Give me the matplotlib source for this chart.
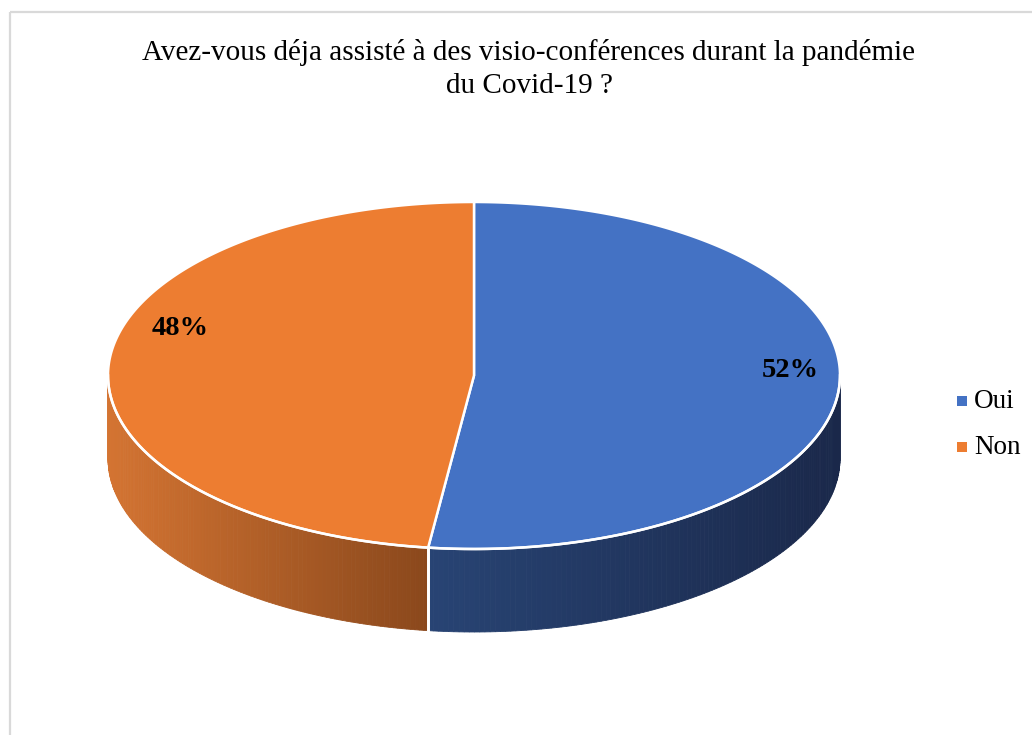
import numpy as np
import matplotlib
matplotlib.use("Agg")
import matplotlib.pyplot as plt
from matplotlib.patches import Polygon, Rectangle

# ---- data ----
categories = ["Oui", "Non"]
values = [52, 48]
pct_labels = ["52%", "48%"]
title = "Avez-vous déja assisté à des visio-conférences durant la pandémie\ndu Covid-19 ?"

# ---- style ----
top_colors = ["#4472C4", "#ED7D31"]
wall_light = [np.array([40, 68, 116]) / 255, np.array([212, 116, 50]) / 255]
wall_dark = [np.array([26, 40, 74]) / 255, np.array([138, 72, 28]) / 255]

W, H = 1032, 735
fig = plt.figure(figsize=(W / 100, H / 100), dpi=100)
ax = fig.add_axes([0, 0, 1, 1])
ax.set_xlim(0, W)
ax.set_ylim(H, 0)
ax.axis("off")

plt.rcParams["font.family"] = ["Liberation Serif", "DejaVu Serif"]

# chart border
ax.add_patch(Rectangle((10, 12), 1200, 900, fill=False, edgecolor="#D9D9D9", lw=1.6))

cx, cy, rx, ry, depth = 474, 375.5, 366, 173.5, 83


def pt(theta_deg, dy=0.0):
    t = np.radians(theta_deg)
    return cx + rx * np.cos(t), cy - ry * np.sin(t) + dy


# slice angles: start at 12 o'clock, clockwise
total = float(sum(values))
starts, ends = [], []
a = 90.0
for v in values:
    starts.append(a)
    a -= 360.0 * v / total
    ends.append(a)

# ---- side walls (front half: theta in [180, 360]) ----
for i in range(len(values)):
    s, e = starts[i], ends[i]
    lo, hi = e, s
    segs = []
    for k in (-360, 0, 360):
        l2, h2 = lo + k, hi + k
        vl, vh = max(l2, 180), min(h2, 360)
        if vh > vl:
            segs.append((vl, vh))
    for (vl, vh) in segs:
        n = 120
        th = np.linspace(vl, vh, n + 1)
        xs = [pt(t)[0] for t in th]
        xmin, xmax = min(xs), max(xs)
        for j in range(n):
            t0, t1 = th[j], th[j + 1]
            xm = 0.5 * (pt(t0)[0] + pt(t1)[0])
            f = (xm - xmin) / max(xmax - xmin, 1)
            c = wall_light[i] * (1 - f) + wall_dark[i] * f
            poly = [pt(t0), pt(t1), pt(t1, depth), pt(t0, depth)]
            ax.add_patch(Polygon(poly, closed=True, facecolor=c, edgecolor=c, lw=0.6))
        for t in (vl, vh):
            if 180 < t < 360:
                x0, y0 = pt(t)
                ax.plot([x0, x0], [y0, y0 + depth], color="white", lw=2)

# ---- top faces ----
for i in range(len(values)):
    th = np.linspace(starts[i], ends[i], 300)
    poly = [(cx, cy)] + [pt(t) for t in th]
    ax.add_patch(Polygon(poly, closed=True, facecolor=top_colors[i], edgecolor="white",
                         lw=1.8, joinstyle="round"))

th = np.linspace(180, 360, 300)
ax.plot([pt(t)[0] for t in th], [pt(t)[1] for t in th], color="white", lw=1.8)

# ---- labels ----
label_pos = [(790, 370), (180, 328)]
for (lx, ly), txt in zip(label_pos, pct_labels):
    ax.text(lx, ly, txt, ha="center", va="center", fontsize=20.5, fontweight="bold", color="black")

# ---- title ----
ax.text(529, 69, title, ha="center", va="center", fontsize=21, color="black", linespacing=1.32)

# ---- legend ----
leg_y = [401, 447]
for yy, c, lab in zip(leg_y, top_colors, categories):
    ax.add_patch(Rectangle((957, yy - 5), 10, 10, facecolor=c, edgecolor="none"))
    ax.text(974, yy, lab, ha="left", va="center", fontsize=19.5, color="black")

fig.savefig("out.png", dpi=100)
